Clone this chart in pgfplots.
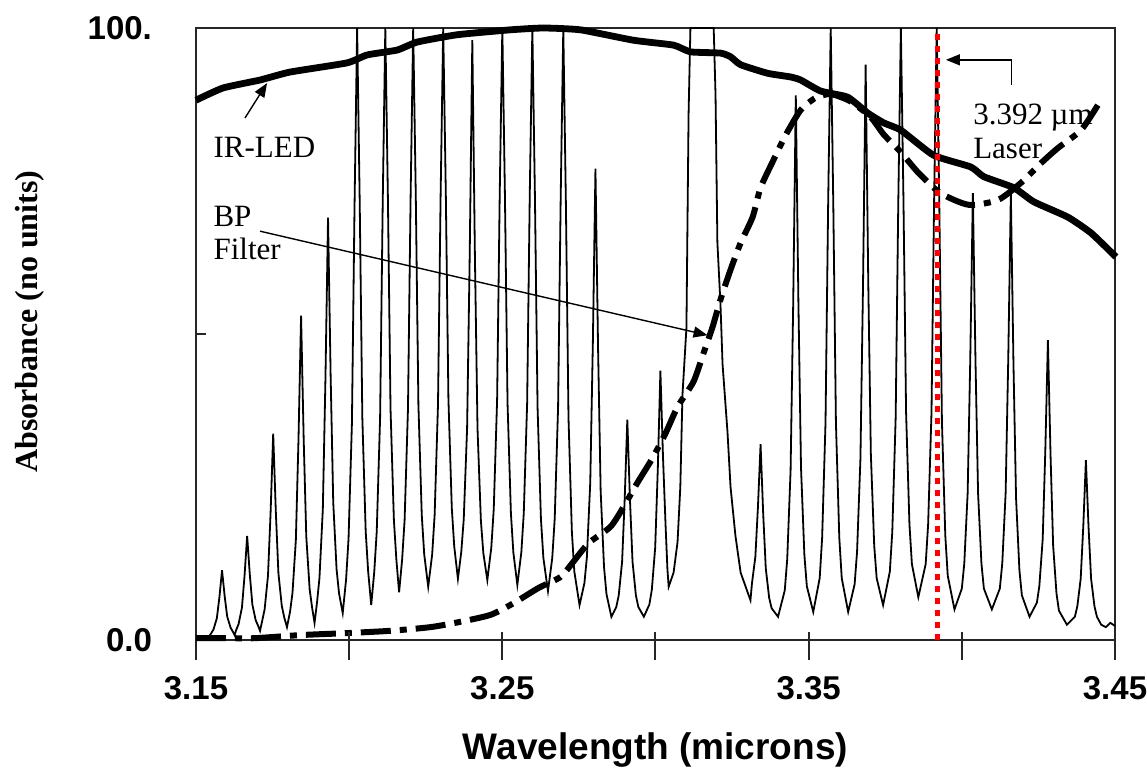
\documentclass[border=0pt]{standalone}
\usepackage{fontspec}
\setmainfont{Liberation Serif}
\newfontfamily\sansfont{Liberation Sans}
\usepackage{pgfplots}
\pgfplotsset{compat=1.18}
\usetikzlibrary{arrows.meta}

\begin{document}
\begin{tikzpicture}
\useasboundingbox (-98pt,-68pt) rectangle (475.5pt,320pt);
\begin{axis}[
  at={(0,0)}, anchor=south west,
  scale only axis, width=459.5pt, height=306pt,
  xmin=3.15, xmax=3.45, ymin=0, ymax=100,
  clip=false,
  axis line style={black!85, line width=1pt},
  xtick={3.15,3.20,3.25,3.30,3.35,3.40,3.45},
  xticklabels={3.15,,3.25,,3.35,,3.45},
  ytick={0,100}, yticklabels={0.0,100.},
  xtick pos=bottom, ytick pos=left,
  tick align=outside, major tick length=10pt,
  xtick style={black!85, line width=1pt},
  ytick style={draw=none},
  ticklabel style={font=\sansfont\bfseries\fontsize{16.5}{18}\selectfont},
  xticklabel style={yshift=-4.5pt},
  yticklabel style={xshift=-8.5pt},
  xlabel={Wavelength (microns)},
  ylabel={Absorbance (no units)},
  xlabel style={font=\sansfont\bfseries\fontsize{18.5}{21}\selectfont, at={(axis description cs:0.5,-0.18)}, anchor=center},
  ylabel style={font=\bfseries\fontsize{16}{19}\selectfont, at={(axis description cs:-0.1806,0.52)}, anchor=center},
]
% methane absorption spectrum
\addplot[black, line width=0.9pt] coordinates {
(3.1500,0.5) (3.1525,0.6) (3.1540,0.4)
(3.1549,1.05) (3.1557,1.7) (3.1568,3.55) (3.15765,7.0) (3.1585,11.4) (3.15935,7.2) (3.1602,3.8) (3.1613,2.0) (3.1621,1.3) (3.1626,0.8)
(3.1631,1.6) (3.1639,2.6) (3.1650,5.3) (3.16585,10.5) (3.1667,17) (3.16755,10.8) (3.1684,5.8) (3.1695,3.2) (3.1703,2.3) (3.1709,1.5)
(3.1716,3.1) (3.1724,5.0) (3.1735,10.5) (3.17435,20.8) (3.1752,33.7) (3.17605,21.1) (3.1769,10.95) (3.1780,5.6) (3.1788,3.7) (3.1797,2.1)
(3.1807,4.6) (3.1815,7.7) (3.1826,16.35) (3.18345,32.6) (3.1843,53) (3.18515,32.9) (3.1860,16.9) (3.1871,8.3) (3.1879,5.3) (3.1887,2.8)
(3.1895,6.1) (3.1903,10.1) (3.1914,21.3) (3.19225,42.5) (3.1931,69) (3.19395,43.2) (3.1948,22.5) (3.1959,11.5) (3.1967,7.6) (3.1979,4.4)
(3.1990,9.9) (3.1998,16.6) (3.2009,35.4) (3.20175,70.8) (3.2026,100) (3.20345,71.3) (3.2043,36.3) (3.2054,17.7) (3.2062,11.2) (3.2072,5.7)
(3.2082,11.2) (3.2090,17.7) (3.2101,36.3) (3.21095,71.3) (3.2118,100) (3.21265,72.1) (3.2135,37.8) (3.2146,19.6) (3.2154,13.2) (3.2163,7.8)
(3.2173,13.2) (3.2181,19.6) (3.2192,37.8) (3.22005,72.1) (3.2209,100) (3.22175,72.5) (3.2226,38.5) (3.2237,20.4) (3.2245,14.0) (3.2258,8.7)
(3.2271,14.0) (3.2279,20.4) (3.2290,38.5) (3.22985,72.5) (3.2307,100) (3.23155,73) (3.2324,39.4) (3.2335,21.6) (3.2343,15.3) (3.2355,10)
(3.2366,14.4) (3.2374,19.7) (3.2385,34.6) (3.23935,62.8) (3.2402,98) (3.24105,62.7) (3.2419,34.5) (3.2430,19.5) (3.2438,14.2) (3.2451,9.8)
(3.2464,15.1) (3.2472,21.4) (3.2483,39.3) (3.24915,72.9) (3.2500,100) (3.25085,72.6) (3.2517,38.7) (3.2528,20.7) (3.2536,14.3) (3.2549,9)
(3.2562,14.3) (3.2570,20.7) (3.2581,38.7) (3.25895,72.6) (3.2598,100) (3.26065,72.2) (3.2615,38.0) (3.2626,19.8) (3.2634,13.4) (3.2649,8)
(3.2663,13.4) (3.2671,19.8) (3.2682,38.0) (3.26905,72.2) (3.2699,100) (3.27075,71.3) (3.2716,36.3) (3.2727,17.7) (3.2735,11.2) (3.2752,5.7)
(3.2768,9.3) (3.2776,13.5) (3.2787,25.7) (3.27955,48.5) (3.2804,77) (3.28125,47.7) (3.2821,24.3) (3.2832,11.9) (3.2840,7.5) (3.2856,3.8)
(3.2872,5.4) (3.2880,7.3) (3.2891,12.8) (3.28995,23.1) (3.2908,36) (3.29165,23.1) (3.2925,12.8) (3.2936,7.3) (3.2944,5.4) (3.2962,3.8)
(3.2980,5.8) (3.2988,8.2) (3.2999,15.1) (3.30075,27.9) (3.3016,44) (3.30245,29.9) (3.3033,18.6) (3.3039,11.5) (3.3043,8.7)
(3.3059,11) (3.3072,16) (3.3081,25) (3.3088,40) (3.3101,51) (3.3108,86) (3.3114,100) (3.3152,100) (3.3190,100) (3.3196,89) (3.3202,65) (3.3212,55) (3.3219,45) (3.3235,34) (3.3245,25) (3.3261,17) (3.3278,11) (3.3310,6.5)
(3.3315,9.3) (3.3326,13.6) (3.33345,21.8) (3.3343,32) (3.33515,20.7) (3.3360,11.7) (3.3371,6.9) (3.3379,5.2) (3.3400,3.8)
(3.3422,8.1) (3.3430,13.2) (3.3441,27.7) (3.34495,54.9) (3.3458,89) (3.34665,55.2) (3.3475,28.2) (3.3486,13.9) (3.3494,8.8) (3.3515,4.6)
(3.3536,10.1) (3.3544,16.7) (3.3555,35.5) (3.35635,70.8) (3.3572,100) (3.35805,70.8) (3.3589,35.5) (3.3600,16.7) (3.3608,10.1) (3.3629,4.6)
(3.3650,9.1) (3.3658,14.4) (3.3669,29.6) (3.36775,58.2) (3.3686,94) (3.36945,58.7) (3.3703,30.4) (3.3714,15.4) (3.3722,10.1) (3.3743,5.7)
(3.3765,11.2) (3.3773,17.7) (3.3784,36.3) (3.37925,71.3) (3.3801,100) (3.38095,71.8) (3.3818,37.2) (3.3829,18.9) (3.3837,12.4) (3.3858,7)
(3.3882,12.4) (3.3890,18.9) (3.3901,37.2) (3.39095,71.8) (3.3918,100) (3.39265,71) (3.3935,35.8) (3.3946,17.1) (3.3954,10.5) (3.3976,5)
(3.4000,8.4) (3.4008,12.5) (3.4019,24.0) (3.40275,45.8) (3.4036,73) (3.40445,45.8) (3.4053,24.0) (3.4064,12.5) (3.4072,8.4) (3.4098,5)
(3.4124,8.4) (3.4132,12.5) (3.4143,24.0) (3.41515,45.8) (3.4160,73) (3.41685,45.3) (3.4177,23.2) (3.4188,11.4) (3.4196,7.3) (3.4221,3.8)
(3.4245,6.1) (3.4253,8.8) (3.4264,16.5) (3.42725,30.9) (3.4281,49) (3.42895,30.4) (3.4298,15.5) (3.4309,7.6) (3.4317,4.8) (3.4343,2.5)
(3.4369,3.8) (3.4377,5.5) (3.4388,10.0) (3.43965,18.6) (3.4405,29.4) (3.44135,18.6) (3.4422,10.0) (3.4433,5.5) (3.4441,3.8) (3.4455,2.5) (3.4470,2.1) (3.4485,2.8) (3.4500,2.3)
};
% IR-LED emission
\addplot[black, line width=3.4pt, smooth, tension=0.3] coordinates {
(3.1500,88.2) (3.1588,90.2) (3.1709,91.5) (3.1807,92.8) (3.1993,94.3) (3.2059,95.6) (3.2157,96.4) (3.2222,97.7) (3.2353,98.9) (3.2526,99.7) (3.2634,100.0) (3.2755,99.7) (3.2928,98.0) (3.3059,97.2) (3.3114,96.1) (3.3212,95.9) (3.3245,95.3) (3.3278,94.0) (3.3366,92.6) (3.3441,92.0) (3.3474,91.5) (3.3539,89.7) (3.3627,88.7) (3.3693,86.1) (3.3745,84.5) (3.3801,83.3) (3.3908,79.2) (3.4029,77.3) (3.4072,75.7) (3.4170,73.9) (3.4235,71.6) (3.4346,69.1) (3.4422,66.5) (3.4503,62.6)
};
% band-pass filter
\addplot[black, line width=3pt, smooth, tension=0.4, dash pattern=on 15pt off 4.5pt on 3.5pt off 4.5pt] coordinates {
(3.1500,0.3) (3.1601,0.3) (3.1693,0.3) (3.1840,0.8) (3.1980,1.1) (3.2134,1.5) (3.2265,2.1) (3.2356,2.9) (3.2461,4.1) (3.2536,6.0) (3.2618,8.5) (3.2690,10.3) (3.2729,12.6) (3.2781,15.8) (3.2853,18.5) (3.2895,21.7) (3.2941,25.7) (3.2990,29.7) (3.3033,33.8) (3.3072,38.1) (3.3124,42.2) (3.3157,46.9) (3.3186,51.1) (3.3212,55.6) (3.3245,60.5) (3.3278,64.9) (3.3317,69.1) (3.3343,73.9) (3.3382,78.1) (3.3425,82.5) (3.3474,86.6) (3.3523,88.6) (3.3572,89.2) (3.3637,88.0) (3.3703,85.4) (3.3745,82.6) (3.3801,79.7) (3.3859,76.3) (3.3931,73.0) (3.4023,71.1) (3.4118,71.9) (3.4193,74.7) (3.4258,77.9) (3.4314,80.4) (3.4389,83.3) (3.4444,87.4)
};
% 3.392 um laser line
\addplot[red, line width=2.6pt, dash pattern=on 3pt off 3pt] coordinates {(3.392,0) (3.392,100)};
% minor ticks
\draw[black!85, line width=1pt] (axis cs:3.15,50) -- (axis cs:3.1533,50);
\draw[black!85, line width=1pt] (axis cs:3.20,0) -- (axis cs:3.20,1.3);
\draw[black!85, line width=1pt] (axis cs:3.25,0) -- (axis cs:3.25,1.3);
\draw[black!85, line width=1pt] (axis cs:3.30,0) -- (axis cs:3.30,1.3);
\draw[black!85, line width=1pt] (axis cs:3.35,0) -- (axis cs:3.35,1.3);
\draw[black!85, line width=1pt] (axis cs:3.40,0) -- (axis cs:3.40,1.3);
% annotations
\node[anchor=base west, inner sep=0, font=\fontsize{15.5}{18}\selectfont] at (axis cs:3.1556,78.9) {IR-LED};
\node[anchor=base west, inner sep=0, font=\fontsize{15.5}{18}\selectfont] at (axis cs:3.1556,67.5) {BP};
\node[anchor=base west, inner sep=0, font=\fontsize{15.5}{18}\selectfont] at (axis cs:3.1556,62.1) {Filter};
\node[anchor=base west, inner sep=0, font=\fontsize{15.5}{18}\selectfont] at (axis cs:3.4036,84.2) {3.392 µm};
\node[anchor=base west, inner sep=0, font=\fontsize{15.5}{18}\selectfont] at (axis cs:3.4036,78.6) {Laser};
\draw[black, line width=0.7pt, -{Triangle[length=7pt,width=5.5pt]}] (axis cs:3.1660,85.3) -- (axis cs:3.1732,91.0);
\draw[black, line width=0.7pt, -{Triangle[length=7pt,width=5.5pt]}] (axis cs:3.1709,66.8) -- (axis cs:3.3170,49.8);
\draw[black, line width=0.7pt, -{Triangle[length=7pt,width=5.5pt]}] (axis cs:3.4163,90.7) -- (axis cs:3.4163,94.8) -- (axis cs:3.3948,94.8);
\end{axis}
\end{tikzpicture}
\end{document}
